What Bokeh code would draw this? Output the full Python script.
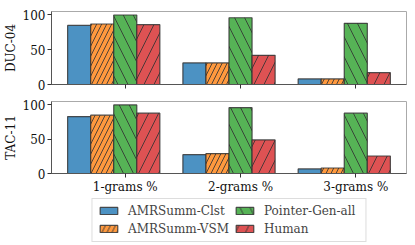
from bokeh.plotting import figure
from bokeh.models import Legend, LegendItem, FixedTicker, Range1d
from bokeh.layouts import column
from bokeh.embed import file_html
from bokeh.resources import INLINE

categories = ["1-grams %", "2-grams %", "3-grams %"]
systems = ["AMRSumm-Clst", "AMRSumm-VSM", "Pointer-Gen-all", "Human"]
panels = ["DUC-04", "TAC-11"]

duc04_clst = [85, 31, 8]
duc04_vsm = [87, 31, 8]
duc04_pointer = [100, 96, 88]
duc04_human = [86, 42, 17]

tac11_clst = [83, 27.5, 6.6]
tac11_vsm = [85, 29, 8]
tac11_pointer = [100, 96, 88]
tac11_human = [88, 49, 25.5]

colors = ["#4c92c3", "#ff993e", "#56b356", "#de5253"]
hatches = [" ", "right_diagonal_line", "left_diagonal_line", "right_diagonal_line"]
hatch_scales = [10, 10, 20, 20]
offsets = [-0.4, -0.2, 0.0, 0.2]

FONT = "DejaVu Serif"
FS = "12px"
X0, X1 = -0.64, 2.44
Y0, Y1 = 0, 105
W = 408


def draw_bars(p, series):
    renderers = []
    for vals, col, hp, hs, off in zip(series, colors, hatches, hatch_scales, offsets):
        xs = [i + off for i in range(len(categories))]
        r = p.vbar(x=xs, top=vals, bottom=0, width=0.2, fill_color=col,
                   line_color="#333333", line_alpha=0.85, line_width=1.2,
                   hatch_pattern=hp, hatch_scale=hs, hatch_color="#333333",
                   hatch_alpha=0.85, hatch_weight=1)
        renderers.append(r)
    return renderers


def make_panel(label, series, show_labels, height, top_border, bottom_border):
    p = figure(output_backend="svg", toolbar_location=None, title=None,
               width=W, height=height,
               x_range=Range1d(X0, X1), y_range=Range1d(Y0, Y1),
               min_border_left=50, min_border_right=2,
               min_border_top=top_border, min_border_bottom=bottom_border)
    renderers = draw_bars(p, series)
    p.xgrid.visible = False
    p.ygrid.visible = False
    p.outline_line_color = "#aaaaaa"
    p.yaxis.ticker = FixedTicker(ticks=[0, 50, 100])
    p.xaxis.ticker = FixedTicker(ticks=list(range(len(categories))))
    p.xaxis.major_label_overrides = {i: (c if show_labels else "") for i, c in enumerate(categories)}
    for ax in (p.xaxis[0], p.yaxis[0]):
        ax.axis_line_color = "#555555"
        ax.major_tick_line_color = "#333333"
        ax.major_tick_out = 4
        ax.major_tick_in = 0
        ax.minor_tick_line_color = None
        ax.major_label_text_font = FONT
        ax.major_label_text_font_size = FS
        ax.major_label_text_color = "#111111"
        ax.major_label_standoff = 2
    if not show_labels:
        p.xaxis.major_label_text_font_size = "0px"
        p.xaxis.major_label_standoff = 0
    p.yaxis.axis_label = label
    p.yaxis.axis_label_text_font = FONT
    p.yaxis.axis_label_text_font_style = "normal"
    p.yaxis.axis_label_text_font_size = FS
    p.yaxis.axis_label_text_color = "#111111"
    p.yaxis.axis_label_standoff = 2
    return p, renderers


p1, _ = make_panel(panels[0], [duc04_clst, duc04_vsm, duc04_pointer, duc04_human], False, 98, 11, 14)
p2, _ = make_panel(panels[1], [tac11_clst, tac11_vsm, tac11_pointer, tac11_human], True, 98, 3, 22)

# legend-only strip: same series, renderers hidden, only the legend is shown
pl = figure(output_backend="svg", toolbar_location=None, title=None,
            width=W, height=47, x_range=Range1d(X0, X1), y_range=Range1d(Y0, Y1),
            min_border_left=0, min_border_right=0, min_border_top=0, min_border_bottom=0)
pl.axis.visible = False
pl.grid.visible = False
pl.outline_line_color = None
rs = draw_bars(pl, [tac11_clst, tac11_vsm, tac11_pointer, tac11_human])
for r in rs:
    r.visible = False

legend = Legend(items=[LegendItem(label=s, renderers=[r]) for s, r in zip(systems, rs)],
                nrows=2, orientation="vertical", location="center",
                label_text_font=FONT, label_text_font_size=FS,
                glyph_width=22, glyph_height=9, label_standoff=9,
                label_width=96, spacing=4, padding=5, margin=0,
                border_line_color="#bbbbbb", border_line_width=1.2,
                label_height=12, inactive_fill_alpha=0)
pl.add_layout(legend)

layout = column(p1, p2, pl, spacing=0)
open("out.html", "w").write(file_html(layout, INLINE))
